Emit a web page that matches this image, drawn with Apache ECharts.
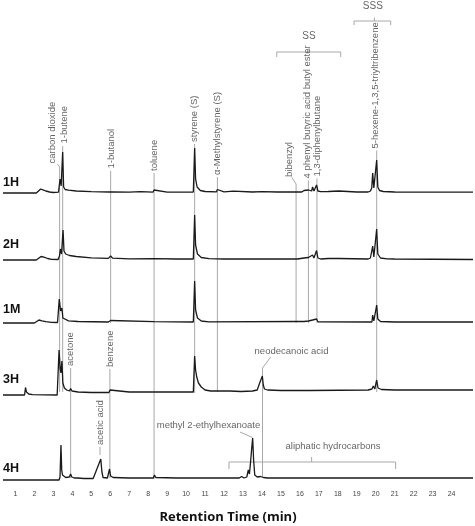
<!DOCTYPE html>
<html><head><meta charset="utf-8">
<script src="https://cdn.jsdelivr.net/npm/echarts@6/dist/echarts.min.js"></script>
<style>html,body{margin:0;padding:0;background:#fff}#c{width:475px;height:526px}</style>
</head><body><div id="c"></div>
<script>
// ---------- DATA ----------
const sampleNames = ['1H', '2H', '1M', '3H', '4H'];
const tickValues = [1,2,3,4,5,6,7,8,9,10,11,12,13,14,15,16,17,18,19,20,21,22,23,24];

// [retention time (min), detector response (a.u.)]
const trace1H = [[0.343,0],[2.1,0],[2.2,1.5],[2.33,4],[2.45,3.2],[2.6,2],[2.8,1],[3.0,0.5],[3.27,0.8],[3.35,14],[3.41,7],[3.49,41],[3.54,6],[3.62,3.5],[3.8,2.8],[4.2,2],[5,1.3],[5.95,1],[6.02,2.2],[6.1,1],[7,0.8],[7.6,1.3],[7.7,0.8],[8.25,0.8],[8.31,3],[8.38,1],[9,0.8],[10.38,1],[10.45,45],[10.5,14],[10.58,6],[10.75,2.5],[11,1.5],[11.6,1.2],[11.65,3.5],[11.72,1.5],[12,1.2],[12.5,1.8],[12.6,1],[13.5,1],[14,1.3],[14.8,1],[15.5,1],[15.75,1],[15.8,2.5],[15.87,1],[16.1,1],[16.22,2.5],[16.3,1],[16.45,3],[16.52,1.5],[16.62,2],[16.67,6],[16.74,2],[16.83,3],[16.88,8],[16.95,2],[17.1,1.3],[17.5,1.5],[17.6,1],[18.05,2],[18.15,1],[19.0,1],[19.6,1],[19.66,3],[19.72,2],[19.79,5],[19.84,20],[19.9,5],[19.97,4],[20.05,33],[20.11,6],[20.2,2.5],[20.4,1.5],[21,1],[25.13,0.8]];
const trace2H = [[0.343,0],[2.1,0],[2.2,1.5],[2.35,3.5],[2.5,2.8],[2.7,1.5],[2.9,0.7],[3.25,0.5],[3.32,4],[3.37,11],[3.43,6],[3.51,30],[3.56,9],[3.65,6],[3.85,4.5],[4.2,3.5],[5,2.2],[5.9,1.6],[6.02,4],[6.12,1.8],[7,1.2],[8.3,1.3],[9.5,1],[10.38,1],[10.45,45],[10.5,15],[10.6,6],[10.8,2.5],[11.2,1.3],[12,1],[14,1],[15.75,1],[15.8,1.8],[15.87,1],[16.22,2],[16.3,1],[16.45,2.5],[16.52,1.2],[16.67,5],[16.74,2],[16.88,9.5],[16.95,2],[17.1,1],[17.5,1.5],[17.6,1],[18.05,1.5],[18.15,1],[19.6,1],[19.66,3],[19.72,2],[19.84,14],[19.9,3],[19.97,3],[20.05,31],[20.11,6],[20.25,2],[20.6,1.2],[21,1],[25.13,0.5]];
const trace1M = [[0.343,0],[2.0,0],[2.12,1.5],[2.24,3],[2.4,2.2],[2.6,1.3],[2.9,0.6],[3.22,0.5],[3.31,24],[3.38,12],[3.45,15],[3.5,5],[3.6,3],[3.8,2.2],[4.3,1.5],[5.9,1],[6.02,2.5],[6.1,1],[8.3,1.3],[10.38,1],[10.45,42],[10.5,13],[10.6,5],[10.8,2],[11.2,1.2],[15.8,1.5],[16.22,1.5],[16.45,2],[16.52,1],[16.67,3],[16.74,1.2],[16.88,4],[16.95,1.2],[19.8,1],[19.84,8],[19.9,2],[19.97,2],[20.05,18],[20.11,4],[20.25,1.5],[21,1],[25.13,1]];
const trace3H = [[0.343,0],[1.48,0],[1.53,7.5],[1.58,3],[1.7,1],[1.9,0.3],[3.2,0],[3.25,1],[3.3,45],[3.36,26],[3.4,22],[3.45,34],[3.5,12],[3.58,7],[3.7,5],[3.85,4],[3.91,6.5],[3.98,4],[4.3,3],[5,2.5],[5.93,2.5],[5.99,5],[6.07,3],[7,3],[8.25,3],[8.31,5],[8.38,3],[10.38,3],[10.45,39],[10.5,25],[10.56,18],[10.65,12],[10.8,8],[11,5],[11.3,4],[11.6,4],[11.65,6],[11.72,4],[12.3,4],[12.9,3.5],[13.5,4],[13.75,5],[13.86,11],[13.93,9],[14.02,19],[14.07,10],[14.13,6],[14.3,5],[15,4.5],[16.5,4.5],[19.6,5],[19.8,6],[19.87,9],[19.95,6],[20.05,15],[20.12,7],[20.3,5.5],[21,5],[25.13,5]];
const trace4H = [[0.343,0],[3.3,0],[3.35,3],[3.4,35],[3.44,10],[3.48,5],[3.54,3],[3.65,2.5],[3.84,3],[3.91,6],[3.97,3],[4.1,2],[4.2,3],[4.28,2],[4.6,1.5],[5.1,1.5],[5.5,21],[5.56,8],[5.62,2.5],[5.85,2],[5.96,11],[6.02,4],[6.15,2.5],[7,2],[8.27,2],[8.33,5],[8.4,2.5],[9.5,2],[11.3,2],[11.4,3.8],[11.5,2],[12.25,2],[12.32,3.5],[12.4,2],[12.8,2],[12.93,3.5],[13.05,2],[13.2,3],[13.28,10],[13.34,6],[13.4,18],[13.46,32],[13.51,42],[13.56,20],[13.62,5],[13.75,3],[13.85,5],[13.92,3.5],[14.0,5.5],[14.08,2.5],[14.3,2],[14.7,2],[14.78,4],[14.86,2],[15.3,2],[15.4,4],[15.48,2],[16.0,2],[16.05,3],[16.12,2],[16.75,2],[16.82,3],[16.9,2],[17.5,2],[17.58,3],[17.66,2],[18.4,2],[18.5,3],[18.6,2],[19.5,2],[19.6,2.8],[19.7,2],[20.5,2],[20.6,2.8],[20.7,2],[21.6,2],[21.68,2.8],[21.76,2],[22.7,2],[22.78,3],[22.86,2],[23.5,2],[25.13,2]];

// compound annotations (vertical labels)
const compoundNames = ['carbon dioxide','1-butene','1-butanol','toluene','styrene (S)','α-Methylstyrene (S)','bibenzyl','4 phenyl butyric acid butyl ester','1,3-diphenylbutane','5-hexene-1,3,5-triyltribenzene','acetone','benzene','acetic acid'];
const compoundTimes = [3.33, 3.49, 6.02, 8.31, 10.45, 11.65, 15.8, 16.45, 16.9, 20.05, 3.91, 5.98, 5.46];
// horizontal labels
const noteNames = ['neodecanoic acid', 'methyl 2-ethylhexanoate', 'aliphatic hydrocarbons', 'SS', 'SSS'];
const noteTimes = [14.03, 13.5, 16.62, 16.48, 19.93];

// ---------- LAYOUT ----------
const X_MIN = 0.343, X_MAX = 25.13;
const baselines = [193, 260, 323, 395, 480];
const GH = 120;
const FONT = "'Liberation Sans', Arial, sans-serif";
// [text x (min), text bottom y, line top y, line bottom y, leader start x]
const vLayout = [
  [2.94, 163.5, 167, 392, 3.218],
  [3.56, 143.5, 146, 392, null],
  [6.08, 168.5, 171, 323, null],
  [8.31, 171, 173, 479, null],
  [10.42, 142, 144, 393, null],
  [11.65, 175, 177, 392, null],
  [15.45, 177, 184, 323, 15.58],
  [16.39, 178.5, 180.5, 323, null],
  [16.92, 176.5, 178.5, 323, null],
  [20.0, 148.5, 150.5, 392, null],
  [3.91, 366, 368, 478, null],
  [5.99, 367, 369, 478, null],
  [5.46, 445, 447, 455, null]
];
// [text x (min), text y, leader start x, leader start y, leader end y, line bottom y]
const hLayout = [
  [15.56, 351.5, 14.46, 357, 368, 477],
  [11.18, 425, 12.84, 432, 437.5, null],
  [17.75, 446, null],
  [16.48, 36, null],
  [19.85, 6, null]
];
// brackets: [left t, right t, centre t, y, end drop, tick rise]
const brackets = [
  [14.78, 18.155, 16.48, 52, 5, 4],
  [18.855, 20.79, 19.93, 21, 4, 3.5],
  [12.26, 21.05, 16.62, 462, 7, 5]
];

const chart = echarts.init(document.getElementById('c'), null, {renderer: 'canvas'});
const traces = [trace1H, trace2H, trace1M, trace3H, trace4H];

const grids = [], xAxes = [], yAxes = [], series = [];
traces.forEach((tr, i) => {
  grids.push({left: 3, right: 2, top: baselines[i] - GH, height: GH});
  const isLast = i === traces.length - 1;
  xAxes.push({type: 'value', gridIndex: i, min: X_MIN, max: X_MAX, show: isLast,
    axisLine: {show: false}, axisTick: {show: false}, splitLine: {show: false},
    axisLabel: {show: isLast, customValues: tickValues, fontSize: 7, color: '#444', margin: 11, fontFamily: FONT}});
  yAxes.push({type: 'value', gridIndex: i, min: 0, max: GH, show: false});
  series.push({type: 'line', xAxisIndex: i, yAxisIndex: i, data: tr, symbol: 'none',
    lineStyle: {color: '#1a1a1a', width: 1.3}, z: 5, silent: true, clip: false});
});
// overlay grid for annotations (y in layout units, top-down)
const OV = traces.length;
grids.push({left: 3, right: 2, top: 0, height: 526});
xAxes.push({type: 'value', gridIndex: OV, min: X_MIN, max: X_MAX, show: false});
yAxes.push({type: 'value', gridIndex: OV, min: 0, max: 526, inverse: true, show: false});

const lineData = [];
const labelData = [];
compoundNames.forEach((name, k) => {
  const L = vLayout[k];
  const t = compoundTimes[k];
  const coords = [];
  if (L[4] !== null) { coords.push([L[4], L[1] + 0.5]); }
  coords.push([t, L[2]]); coords.push([t, L[3]]);
  lineData.push({coords});
  labelData.push({value: [L[0], L[1]], label: {show: true, formatter: name, rotate: 90, align: 'left', verticalAlign: 'middle'}});
});
noteNames.forEach((name, k) => {
  const L = hLayout[k];
  if (L[2] !== null) {
    const coords = [[L[2], L[3]], [noteTimes[k], L[4]]];
    if (L[5] !== null) coords.push([noteTimes[k], L[5]]);
    lineData.push({coords});
  }
  labelData.push({value: [L[0], L[1]], label: {show: true, formatter: name, rotate: 0, align: 'center', verticalAlign: 'middle', fontSize: k >= 3 ? 10 : 9.5}});
});
brackets.forEach(b => {
  lineData.push({coords: [[b[0], b[3] + b[4]], [b[0], b[3]], [b[1], b[3]], [b[1], b[3] + b[4]]]});
  lineData.push({coords: [[b[2], b[3]], [b[2], b[3] - b[5]]]});
});

series.push({type: 'lines', coordinateSystem: 'cartesian2d', xAxisIndex: OV, yAxisIndex: OV, polyline: true,
  data: lineData, lineStyle: {color: '#a8a8a8', width: 1, opacity: 1}, z: 1, silent: true, effect: {show: false}});
series.push({type: 'scatter', xAxisIndex: OV, yAxisIndex: OV, symbolSize: 0.01, data: labelData, z: 6, silent: true,
  label: {show: true, position: [0, 0], fontSize: 9.5, color: '#3c3c3c', fontFamily: FONT}});

const graphics = sampleNames.map((n, i) => ({
  type: 'text', left: 3, top: baselines[i] - [17, 22, 20, 22, 18][i],
  style: {text: n, font: "bold 12.5px 'Liberation Sans', Arial, sans-serif", fill: '#111'}
}));
graphics.push({type: 'text', x: 228, y: 517, style: {text: 'Retention Time (min)', font: "bold 13px 'Open Sans', 'Liberation Sans', sans-serif", fill: '#111', textAlign: 'center', textVerticalAlign: 'middle'}});

chart.setOption({
  animation: false,
  backgroundColor: '#ffffff',
  grid: grids, xAxis: xAxes, yAxis: yAxes, series,
  graphic: graphics
});
</script></body></html>
